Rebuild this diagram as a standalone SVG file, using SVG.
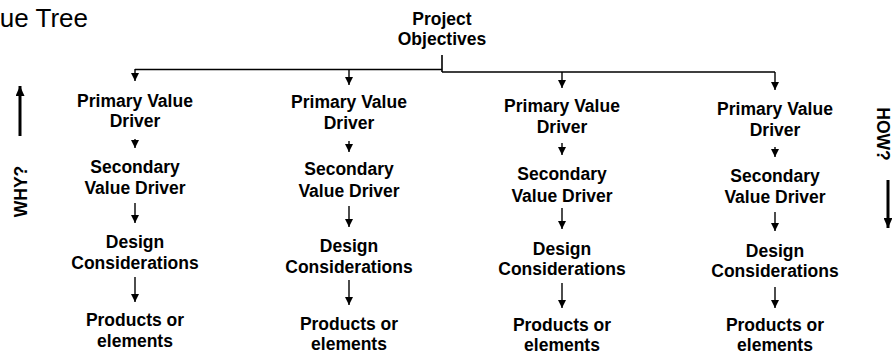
<svg xmlns="http://www.w3.org/2000/svg" width="892" height="354" viewBox="0 0 892 354">
<style>
text{font-family:"Liberation Sans",Arial,sans-serif;fill:#000}
.n{font-size:17.5px;font-weight:bold;text-anchor:middle}
.t{font-size:26px;text-anchor:end}
.c{fill:none;stroke:#000;stroke-width:1.4}
.k{fill:none;stroke:#000;stroke-width:3}
</style>
<defs>
<marker id="ah" viewBox="0 0 10 10" refX="10" refY="5" markerWidth="8" markerHeight="8" markerUnits="userSpaceOnUse" orient="auto">
<path d="M0,0 L10,5 L0,10 Z" fill="#000"/>
</marker>
<marker id="bh" viewBox="0 0 10 10" refX="10" refY="5" markerWidth="10" markerHeight="9" markerUnits="userSpaceOnUse" orient="auto" preserveAspectRatio="none">
<path d="M0,0 L10,5 L0,10 Z" fill="#000"/>
</marker>
</defs>
<text class="t" x="88" y="27">Value Tree</text>
<g id="root"><text class="n" x="442" y="25">Project</text><text class="n" x="442" y="45">Objectives</text></g>
<g id="c1">
<g id="pv1"><text class="n" x="135" y="106.5">Primary Value</text><text class="n" x="135" y="126.5">Driver</text></g>
<g id="sv1"><text class="n" x="135" y="172.5">Secondary</text><text class="n" x="135" y="193.5">Value Driver</text></g>
<g id="dc1"><text class="n" x="135" y="248">Design</text><text class="n" x="135" y="269">Considerations</text></g>
<g id="pe1"><text class="n" x="135" y="326">Products or</text><text class="n" x="135" y="347">elements</text></g>
</g>
<g id="c2">
<g id="pv2"><text class="n" x="349" y="108">Primary Value</text><text class="n" x="349" y="129">Driver</text></g>
<g id="sv2"><text class="n" x="349" y="175">Secondary</text><text class="n" x="349" y="197">Value Driver</text></g>
<g id="dc2"><text class="n" x="349" y="252">Design</text><text class="n" x="349" y="273">Considerations</text></g>
<g id="pe2"><text class="n" x="349" y="329.5">Products or</text><text class="n" x="349" y="350">elements</text></g>
</g>
<g id="c3">
<g id="pv3"><text class="n" x="562" y="112">Primary Value</text><text class="n" x="562" y="133">Driver</text></g>
<g id="sv3"><text class="n" x="562" y="180">Secondary</text><text class="n" x="562" y="202">Value Driver</text></g>
<g id="dc3"><text class="n" x="562" y="255">Design</text><text class="n" x="562" y="275">Considerations</text></g>
<g id="pe3"><text class="n" x="562" y="331">Products or</text><text class="n" x="562" y="351">elements</text></g>
</g>
<g id="c4">
<g id="pv4"><text class="n" x="775" y="115">Primary Value</text><text class="n" x="775" y="136">Driver</text></g>
<g id="sv4"><text class="n" x="775" y="182">Secondary</text><text class="n" x="775" y="203">Value Driver</text></g>
<g id="dc4"><text class="n" x="775" y="257">Design</text><text class="n" x="775" y="277">Considerations</text></g>
<g id="pe4"><text class="n" x="775" y="331">Products or</text><text class="n" x="775" y="351">elements</text></g>
</g>
<g id="why"><text class="n" transform="translate(27,191.5) rotate(-90)">WHY?</text></g>
<g id="how"><text class="n" transform="translate(877,134) rotate(90)">HOW?</text></g>
<g id="connectors">
<path class="c" d="M442,55 V72 M442,69.5 H135 M442,72 H775" style="stroke-width:1.6"/>
<path class="c" marker-end="url(#ah)" d="M135,69 V81"/>
<path class="c" marker-end="url(#ah)" d="M349,69 V85"/>
<path class="c" marker-end="url(#ah)" d="M562,72 V88"/>
<path class="c" marker-end="url(#ah)" d="M775,72 V90"/>
<path class="c" marker-end="url(#ah)" d="M135,139 V148"/>
<path class="c" marker-end="url(#ah)" d="M135,203 V223"/>
<path class="c" marker-end="url(#ah)" d="M135,277 V302"/>
<path class="c" marker-end="url(#ah)" d="M349,141 V152"/>
<path class="c" marker-end="url(#ah)" d="M349,206 V227"/>
<path class="c" marker-end="url(#ah)" d="M349,280 V305"/>
<path class="c" marker-end="url(#ah)" d="M562,143 V155"/>
<path class="c" marker-end="url(#ah)" d="M562,208 V229"/>
<path class="c" marker-end="url(#ah)" d="M562,283 V308"/>
<path class="c" marker-end="url(#ah)" d="M775,147 V157"/>
<path class="c" marker-end="url(#ah)" d="M775,212 V231"/>
<path class="c" marker-end="url(#ah)" d="M775,287 V308"/>
<path class="k" marker-end="url(#bh)" d="M20,136 V86"/>
<path class="k" marker-end="url(#bh)" d="M888,180 V228"/>
</g>
</svg>
